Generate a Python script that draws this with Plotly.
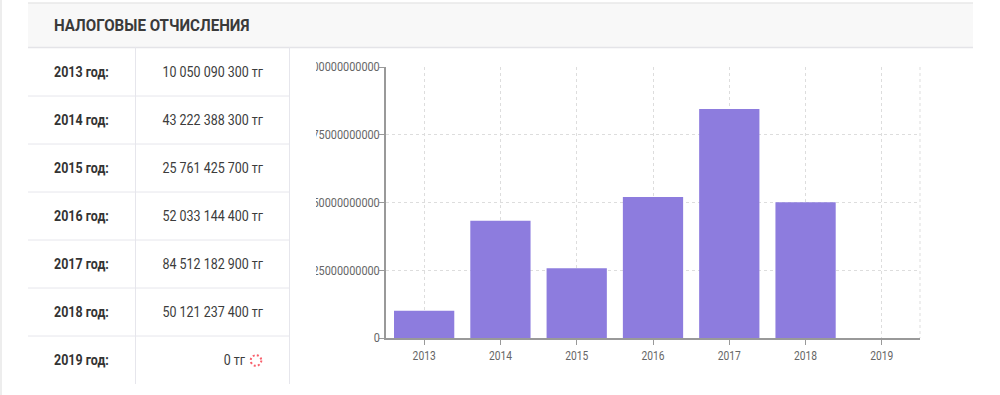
import plotly.graph_objects as go

W, H = 1000, 395
L, R, T, B = 386, 920, 67, 338

years = ["2013", "2014", "2015", "2016", "2017", "2018", "2019"]
values = [10050090300, 43222388300, 25761425700, 52033144400, 84512182900, 50121237400, 0]
row_labels = ["2013 год:", "2014 год:", "2015 год:", "2016 год:", "2017 год:", "2018 год:", "2019 год:"]
row_values = ["10 050 090 300 тг", "43 222 388 300 тг", "25 761 425 700 тг", "52 033 144 400 тг",
              "84 512 182 900 тг", "50 121 237 400 тг", "0 тг"]
y_ticks = [0, 25000000000, 50000000000, 75000000000, 100000000000]
title = "НАЛОГОВЫЕ ОТЧИСЛЕНИЯ"

FONT = "Roboto"

def px(x):
    return (x - L) / (R - L)

def py(y):
    return (B - y) / (B - T)

fig = go.Figure(go.Bar(x=years, y=values, marker=dict(color="#8D7CDE", line=dict(width=0)), width=0.79))

line_c = "#E6E6EC"
shapes = []

def rect(x0, y0, x1, y1, fill, layer="above"):
    shapes.append(dict(type="rect", xref="paper", yref="paper", x0=px(x0), x1=px(x1), y0=py(y0), y1=py(y1),
                       fillcolor=fill, line=dict(width=0), layer=layer))

def seg(x0, y0, x1, y1, color=line_c, width=1, dash="solid", layer="above"):
    shapes.append(dict(type="line", xref="paper", yref="paper", x0=px(x0), x1=px(x1), y0=py(y0), y1=py(y1),
                       line=dict(color=color, width=width, dash=dash), layer=layer))

# cover that clips the long value-axis labels
rect(290, 60, 316, 345, "#FFFFFF")
# page edge and header band
rect(0, 0, 2, 395, "#EDEDED")
rect(28, 3, 973, 47, "#F8F8F8")
seg(28, 3, 973, 3, "#E8E8E8", 1.5)
seg(28, 47.5, 973, 47.5, "#E4E4E8", 1.5)
# table rules
for y in [96, 144, 192, 240, 288, 336]:
    seg(28, y, 289, y)
seg(135.5, 47, 135.5, 384)
seg(289.5, 47, 289.5, 384)
# right grid edge
seg(920, 67, 920, 338, "#DDDDDD", 1, "3px,3px", "below")
# busy indicator
shapes.append(dict(type="circle", xref="paper", yref="paper", x0=px(250.7), x1=px(261.3), y0=py(365.8), y1=py(355.2),
                   line=dict(color="#F8606C", width=2, dash="2px,2.2px"), layer="above"))

ann = [dict(text=f"<b>{title}</b>", xref="paper", yref="paper", x=px(52), y=py(25.5), xanchor="left",
            yanchor="middle", showarrow=False, font=dict(family=FONT, size=17, color="#3A3A3A"))]
row_ys = [72, 120, 168, 216, 264, 312, 360]
for lab, val, y in zip(row_labels, row_values, row_ys):
    ann.append(dict(text=f"<b>{lab}</b>", xref="paper", yref="paper", x=px(52), y=py(y), xanchor="left",
                    yanchor="middle", showarrow=False, font=dict(family=FONT, size=14, color="#333333")))
    right = 265 if val != "0 тг" else 247
    ann.append(dict(text=val, xref="paper", yref="paper", x=px(right), y=py(y), xanchor="right",
                    yanchor="middle", showarrow=False, font=dict(family=FONT, size=14, color="#3C3C3C")))

fig.update_layout(
    width=W, height=H, autosize=False,
    margin=dict(l=L, r=W - R, t=T, b=H - B, pad=0),
    paper_bgcolor="#FFFFFF", plot_bgcolor="#FFFFFF",
    showlegend=False, shapes=shapes, annotations=ann,
    font=dict(family=FONT, size=12, color="#666666"),
    xaxis=dict(type="category", range=[-0.5, 6.5], showgrid=True, gridcolor="#DDDDDD", griddash="3px,3px",
               gridwidth=1, showline=True, linecolor="#999999", linewidth=1.5, ticks="outside", ticklen=5,
               tickcolor="#999999", tickfont=dict(size=12.5, color="#666666"), zeroline=False),
    yaxis=dict(range=[0, 100000000000], tickvals=y_ticks, ticktext=[str(v) for v in y_ticks],
               showgrid=True, gridcolor="#DDDDDD", griddash="3px,3px", gridwidth=1, showline=True,
               linecolor="#999999", linewidth=1.5, ticks="outside", ticklen=5, tickcolor="#999999",
               ticklabelstandoff=-3, tickfont=dict(size=12.5, color="#666666"), zeroline=False),
)

# narrow the glyphs to imitate the condensed face of the original, keeping each text's anchor edge
POST = """
document.body.style.margin='0';document.documentElement.style.overflow='hidden';
function squeeze(){
  document.querySelectorAll('.xtick text,.ytick text').forEach(function(t){
    if(t.dataset.sq)return;t.dataset.sq='1';
    var k=t.closest('.ytick')?0.87:0.82;
    t.setAttribute('lengthAdjust','spacingAndGlyphs');
    t.setAttribute('textLength',t.getComputedTextLength()*k);
  });
  document.querySelectorAll('.annotation-text').forEach(function(t){
    if(t.dataset.sq)return;t.dataset.sq='1';
    var bold=t.querySelector('tspan')!==null||t.style.fontWeight==='bold';
    var b0=t.getBoundingClientRect();
    t.setAttribute('lengthAdjust','spacingAndGlyphs');
    t.setAttribute('textLength',t.getComputedTextLength()*0.89);
    var b1=t.getBoundingClientRect();
    var shift=bold?b0.left-b1.left:b0.right-b1.right;
    t.setAttribute('x',parseFloat(t.getAttribute('x')||0)+shift);
  });
}
squeeze();setTimeout(squeeze,100);setTimeout(squeeze,400);
"""
fig.write_html("out.html", config=dict(displayModeBar=False), post_script=POST)
